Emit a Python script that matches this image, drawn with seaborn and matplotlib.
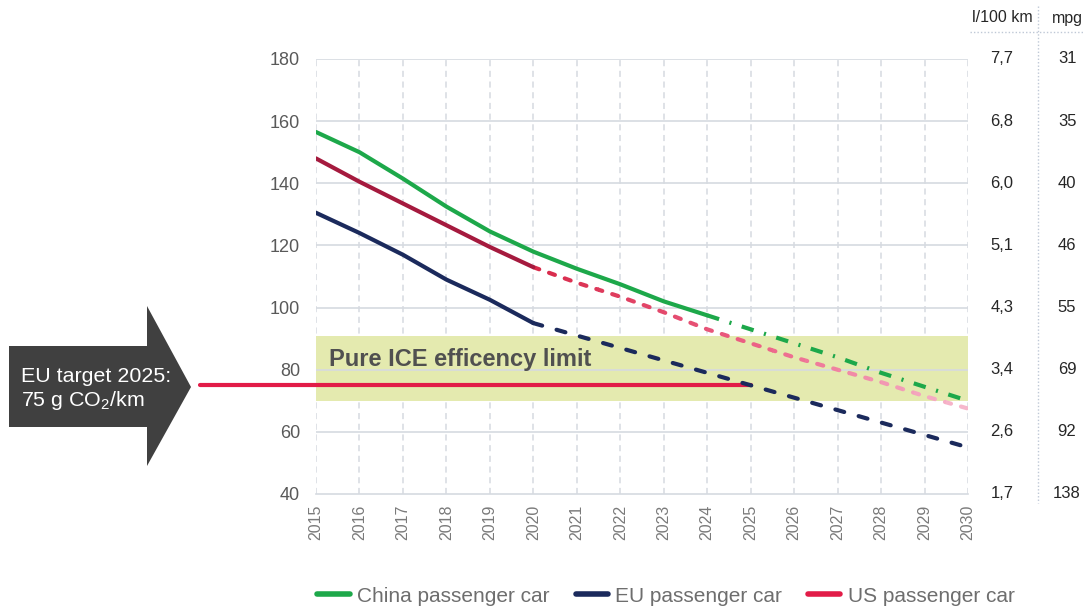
import numpy as np
import pandas as pd
import matplotlib
matplotlib.use("Agg")
import matplotlib.pyplot as plt
from matplotlib.patches import Polygon, Rectangle
from matplotlib.lines import Line2D
from matplotlib.colors import LinearSegmentedColormap
import seaborn as sns

# ---- data -------------------------------------------------------------
years = list(range(2015, 2031))
china = [156.5, 150, 141.5, 132.5, 124.5, 118, 112.5, 107.5, 102, 97.5, 93, 88.5, 84, 79, 74.5, 70]
eu = [130.5, 124, 117, 109, 102.5, 95, 91, 87, 83, 79, 75, 71, 67, 63, 59, 55]
us = [148, 140.5, 133.5, 126.5, 119.5, 113, 108, 103.5, 98.5, 93, 88.5, 84, 80, 76, 71.5, 67.5]
china_last_actual = 2024
eu_last_actual = 2020
us_last_actual = 2020

target_value = 75
target_year = 2025
ice_limit_low, ice_limit_high = 70, 91

y_ticks = [40, 60, 80, 100, 120, 140, 160, 180]
l_per_100km = ["1,7", "2,6", "3,4", "4,3", "5,1", "6,0", "6,8", "7,7"]
mpg = ["138", "92", "69", "55", "46", "40", "35", "31"]

series_names = ["China passenger car", "EU passenger car", "US passenger car"]

# ---- style --------------------------------------------------------------
sns.set_theme(style="white")
plt.rcParams["font.family"] = ["Liberation Sans", "DejaVu Sans"]
plt.rcParams["mathtext.fontset"] = "custom"
plt.rcParams["mathtext.rm"] = "Liberation Sans"
plt.rcParams["mathtext.default"] = "regular"

GREEN = "#1DA84A"
NAVY = "#1B2A5C"
MAROON = "#A51A3E"
RED = "#E21C48"
GRID = "#D6DAE0"
BAND = "#E4EAAF"

fig = plt.figure(figsize=(10.84, 6.06), dpi=100)
W, H = 1084, 606
ax = fig.add_axes([316 / W, 1 - 494 / H, (968 - 316) / W, (494 - 59) / H])

df = pd.DataFrame({"year": years, "china": china, "eu": eu, "us": us})
LW = 3.0

# grid: dashed verticals below the band, solid horizontals above it
ax.set_axisbelow(True)
ax.grid(axis="x", color=GRID, lw=1.1, ls=(0, (4, 3)))
ax.grid(axis="y", visible=False)
ax.axhspan(ice_limit_low, ice_limit_high, color=BAND, zorder=0.8, lw=0)
for v in y_ticks[1:]:
    ax.axhline(v, color=GRID, lw=1.2, zorder=1)

# China: solid actuals, dash-dot outlook
hist = df[df.year <= china_last_actual]
fut = df[df.year >= china_last_actual]
sns.lineplot(data=hist, x="year", y="china", color=GREEN, lw=LW, ax=ax,
             solid_capstyle="round", zorder=3)
sns.lineplot(data=fut, x="year", y="china", color=GREEN, lw=LW, ax=ax,
             ls=(0, (3.0, 2.6, 0.5, 2.6)), zorder=3)

# EU: solid actuals, dashed outlook
hist = df[df.year <= eu_last_actual]
fut = df[df.year >= eu_last_actual]
sns.lineplot(data=hist, x="year", y="eu", color=NAVY, lw=LW, ax=ax,
             solid_capstyle="round", zorder=3)
sns.lineplot(data=fut, x="year", y="eu", color=NAVY, lw=LW, ax=ax,
             ls=(0, (2.2, 3.6)), dash_capstyle="round", zorder=3)

# US: solid actuals, dashed outlook fading from red to pink
hist = df[df.year <= us_last_actual]
fut = df[df.year >= us_last_actual]
sns.lineplot(data=hist, x="year", y="us", color=MAROON, lw=LW, ax=ax,
             solid_capstyle="round", zorder=3)
fade = LinearSegmentedColormap.from_list("fade", ["#D82A4A", "#EC5F84", "#F6B7CC"])
n_strips = 40
x0, x1 = us_last_actual, years[-1]
step = (x1 - x0) / n_strips
for i in range(n_strips):
    sns.lineplot(data=fut, x="year", y="us", color=fade(i / (n_strips - 1)), lw=LW,
                 ax=ax, ls=(0, (1.5, 2.5)), dash_capstyle="round", zorder=2.9)
    strip = Rectangle((x0 + i * step - 0.001, 0), step * 1.02, 400, transform=ax.transData)
    ax.lines[-1].set_clip_path(strip)

# EU 2025 target line, extending out to the arrow
ax.axhline(target_value, xmin=-0.178, xmax=(target_year - years[0]) / (years[-1] - years[0]),
           color=RED, lw=3.0, clip_on=False, zorder=2.8, solid_capstyle="round")

ax.text(2015.3, 81.3, "Pure ICE efficency limit", fontsize=17, fontweight="bold",
        color="#505050", va="baseline", ha="left", zorder=4)

# axes
ax.set_xlim(years[0], years[-1])
ax.set_ylim(y_ticks[0], y_ticks[-1])
ax.set_xticks(years)
ax.set_xticklabels([str(y) for y in years], rotation=90, fontsize=11.5, color="#7A7A7A")
ax.set_yticks(y_ticks)
ax.set_yticklabels([str(v) for v in y_ticks], fontsize=13, color="#595959")
ax.tick_params(axis="x", length=0, pad=7.5)
ax.tick_params(axis="y", length=0, pad=11.5)
ax.set_xlabel("")
ax.set_ylabel("")
for side in ["top", "right", "left"]:
    ax.spines[side].set_visible(False)
ax.spines["bottom"].set_color(GRID)
ax.spines["bottom"].set_linewidth(1.2)

# secondary scales: fuel consumption and mpg
ytr = ax.get_yaxis_transform()
for v, a, b in zip(y_ticks, l_per_100km, mpg):
    ax.text(1.052, v, a, transform=ytr, ha="center", va="center", fontsize=12, color="#262626")
    ax.text(1.152, v, b, transform=ytr, ha="center", va="center", fontsize=12, color="#262626")
fig.text(1002 / W, 1 - 18 / H, "l/100 km", ha="center", va="center", fontsize=11.5, color="#262626")
fig.text(1067 / W, 1 - 18 / H, "mpg", ha="center", va="center", fontsize=11.5, color="#262626")
fig.add_artist(Line2D([970 / W, 1], [1 - 32 / H] * 2, transform=fig.transFigure,
                      color="#BFC8D6", lw=1, ls=(0, (1, 1.5))))
fig.add_artist(Line2D([1038 / W] * 2, [1 - 6 / H, 1 - 503 / H], transform=fig.transFigure,
                      color="#BFC8D6", lw=1, ls=(0, (1, 1.5))))

# arrow callout
pts = [(9, 346), (147, 346), (147, 306), (191, 387), (147, 466), (147, 427), (9, 427)]
fig.add_artist(Polygon([(x / W, 1 - y / H) for x, y in pts], closed=True,
                       transform=fig.transFigure, facecolor="#404040", edgecolor="none"))
fig.text(21 / W, 1 - 382 / H, "EU target 2025:", color="white", fontsize=15.4, va="baseline")
fig.text(21 / W, 1 - 406 / H, "75 g CO$_2$/km", color="white", fontsize=15.4, va="baseline")

# legend
handles = [Line2D([], [], color=c, lw=4) for c in (GREEN, NAVY, RED)]
fig.legend(handles, series_names, loc="center", bbox_to_anchor=(666 / W, 1 - 596 / H),
           ncol=3, frameon=False, fontsize=15, labelcolor="#6E6E6E",
           handlelength=1.55, handletextpad=0.35, columnspacing=1.25)

fig.savefig("out.png", dpi=100)
